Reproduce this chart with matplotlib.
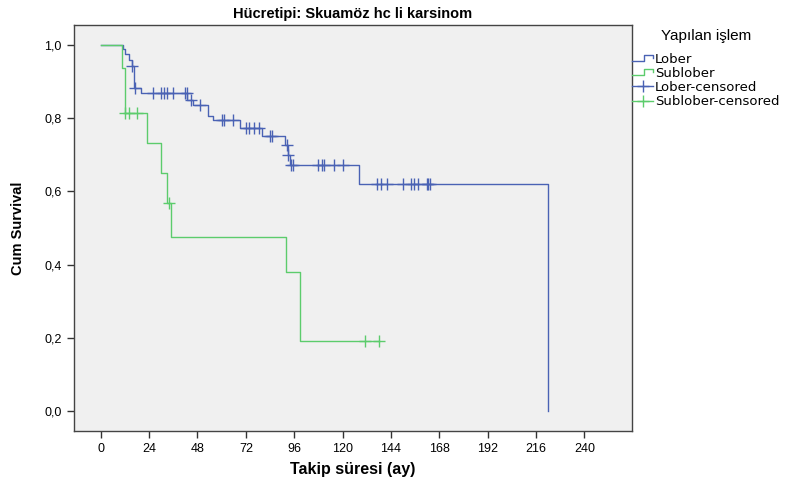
import matplotlib
matplotlib.use("Agg")
import matplotlib.pyplot as plt
from matplotlib.lines import Line2D
from matplotlib.legend_handler import HandlerBase

plt.rcParams['font.family'] = ['Liberation Sans', 'DejaVu Sans']

# Kaplan-Meier basamaklari (ay, kumulatif sagkalim)
lober_t = [0, 11, 12, 14, 15.5, 16.5, 20, 43, 46, 53, 55.5, 69, 80, 91.5, 93, 94, 128, 222]
lober_s = [1.0, 0.988, 0.975, 0.958, 0.942, 0.882, 0.868, 0.850, 0.836, 0.807, 0.795,
           0.772, 0.752, 0.727, 0.700, 0.672, 0.620, 0.0]
lober_cens_t = [15.5, 17, 26, 29.7, 31.4, 33, 36, 42, 42.8, 45, 49.4, 60, 61.3, 65.8,
                72, 73.8, 76, 78.5, 84, 85, 92.2, 93, 94.5, 95.5, 108, 110, 111, 115.5, 120,
                137, 139, 142, 150, 154, 155.5, 157.6, 161.7, 162.5, 163.5]
lober_cens_s = [0.942, 0.882, 0.868, 0.868, 0.868, 0.868, 0.868, 0.868, 0.868, 0.850, 0.836,
                0.795, 0.795, 0.795, 0.772, 0.772, 0.772, 0.772, 0.752, 0.752, 0.727, 0.700,
                0.672, 0.672, 0.672, 0.672, 0.672, 0.672, 0.672,
                0.620, 0.620, 0.620, 0.620, 0.620, 0.620, 0.620, 0.620, 0.620, 0.620]

sublober_t = [0, 10.5, 12, 23, 30, 33, 35, 92, 99, 138]
sublober_s = [1.0, 0.938, 0.813, 0.731, 0.650, 0.569, 0.475, 0.379, 0.190, 0.190]
sublober_cens_t = [12, 14, 18, 34, 131, 138]
sublober_cens_s = [0.813, 0.813, 0.813, 0.569, 0.190, 0.190]

x_ticks = [0, 24, 48, 72, 96, 120, 144, 168, 192, 216, 240]
y_ticks = [0.0, 0.2, 0.4, 0.6, 0.8, 1.0]
y_ticklabels = ["0,0", "0,2", "0,4", "0,6", "0,8", "1,0"]

blue = '#4a62b4'
green = '#5ccc6c'


class StepHandler(HandlerBase):
    # kucuk basamak sekli, SPSS legend gibi
    def create_artists(self, legend, orig_handle, xdescent, ydescent,
                       width, height, fontsize, trans):
        y0 = height * 0.25 - ydescent
        y1 = height * 0.85 - ydescent
        x = [-xdescent, -xdescent + 0.55 * width, -xdescent + 0.55 * width,
             -xdescent + width, -xdescent + width]
        y = [y0, y0, y1, y1, y1 - 0.3 * height]
        ln = Line2D(x, y, color=orig_handle.get_color(), lw=1.0, transform=trans)
        return [ln]


fig = plt.figure(figsize=(7.95, 4.88), dpi=100)
ax = fig.add_axes([0.0925, 0.1168, 0.7025, 0.832])
ax.set_facecolor('#f0f0f0')

ax.step(lober_t, lober_s, where='post', color=blue, lw=1.0)
ax.step(sublober_t, sublober_s, where='post', color=green, lw=1.0)
ax.plot(lober_cens_t, lober_cens_s, ls='none', marker='+', ms=8, mew=1.0, color=blue)
ax.plot(sublober_cens_t, sublober_cens_s, ls='none', marker='+', ms=8, mew=1.0, color=green)

ax.set_xlim(-13.5, 263.6)
ax.set_ylim(-0.055, 1.0546)
ax.set_xticks(x_ticks)
ax.set_yticks(y_ticks)
ax.set_yticklabels(y_ticklabels)
ax.tick_params(direction='out', length=5, width=1, colors='#333333', labelsize=9,
               labelcolor='black')
for sp in ax.spines.values():
    sp.set_color('#444444')
    sp.set_linewidth(1.0)

ax.set_xlabel('Takip süresi (ay)', fontsize=11.5, fontweight='bold', labelpad=5)
ax.set_ylabel('Cum Survival', fontsize=10.5, fontweight='bold', labelpad=14,
              family=['Liberation Sans Narrow', 'Liberation Sans'])
ax.set_title('Hücretipi: Skuamöz hc li karsinom', fontsize=10.5, fontweight='bold', pad=5)

h_lober = Line2D([], [], color=blue)
h_sub = Line2D([], [], color=green)
h_lc = Line2D([], [], color=blue, marker='+', ms=8, lw=1.0)
h_sc = Line2D([], [], color=green, marker='+', ms=8, lw=1.0)
leg = fig.legend([h_lober, h_sub, h_lc, h_sc],
                 ['Lober', 'Sublober', 'Lober-censored', 'Sublober-censored'],
                 handler_map={h_lober: StepHandler(), h_sub: StepHandler()},
                 loc='upper left', bbox_to_anchor=(0.795, 0.94), frameon=False,
                 prop={'family': 'DejaVu Sans', 'size': 9.5},
                 title='Yapılan işlem', title_fontsize=11,
                 handlelength=1.6, handletextpad=0.15, labelspacing=0.08,
                 borderpad=0.0, borderaxespad=0.0)
leg._legend_box.sep = 7

fig.savefig('out.png', dpi=100)
